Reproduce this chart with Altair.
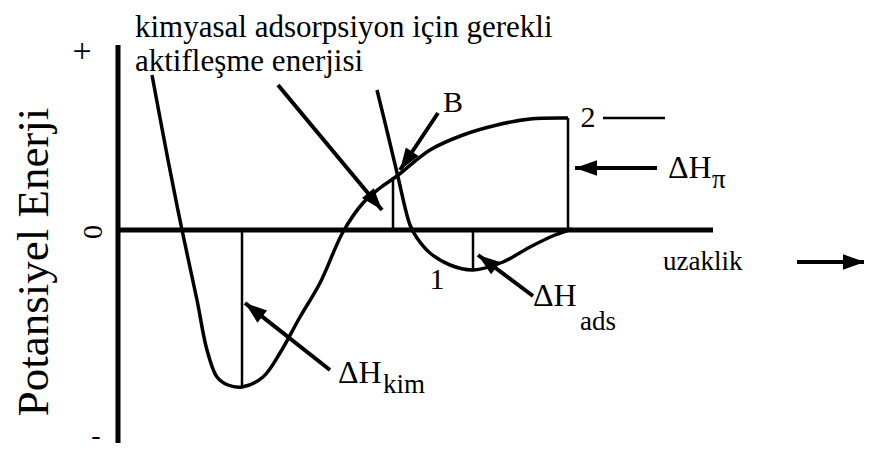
import altair as alt
import pandas as pd
import numpy as np

# Coordinates: d = distance (uzaklik), e = potential energy; origin where the axes cross
# chemisorption curve (kimyasal)
chem_d = [34, 50, 64, 79, 89, 99, 110, 124, 145, 162, 182, 202, 225, 245, 262, 279, 312, 345, 379, 412, 450]
chem_e = [155, 70, 0, -70, -120, -147, -155, -157, -147, -123, -87, -53, -2, 27, 42, 54, 80, 95, 105, 111, 112]
# physisorption curve (fiziksel)
phys_d = [259, 270, 280, 292, 299, 312, 332, 355, 385, 412, 437, 454]
phys_e = [140, 95, 53, 5, -8, -23, -35, -40, -32, -17, -5, 1]

# axes: d1, e1, d2, e2
axis_d1 = [0, 0]
axis_e1 = [185, 0]
axis_d2 = [0, 595]
axis_e2 = [-213, 0]

# thin guide lines (depths of minima, B drop, level 2)
guide_d1 = [124, 275, 355, 450, 485]
guide_e1 = [0, 53, 0, 112, 112]
guide_d2 = [124, 275, 355, 450, 547]
guide_e2 = [-157, 0, -40, 0, 112]

# arrows: tail -> tip
arrow_d1 = [160, 320, 539, 415, 212, 679]
arrow_e1 = [145, 117, 62, -66, -140, -32]
arrow_d2 = [264, 282, 457, 360, 127, 747]
arrow_e2 = [20, 60, 62, -25, -73, -32]

# labels (left aligned, middle baseline)
lab_text = ["ΔH", "π", "ΔH", "ads", "ΔH", "kim", "uzaklik"]
lab_d = [550, 594, 415, 462, 220, 265, 545]
lab_e = [62, 50, -66, -92, -143, -155, -32]
lab_size = [32, 27, 32, 27, 32, 27, 27]

# top caption (left aligned, alphabetic baseline)
cap_text = ["kimyasal adsorpsiyon için gerekli", "aktifleşme enerjisi"]
cap_d = [17, 17]
cap_e = [193, 159]

# centred marks
mark_text = ["+", "-", "B", "2", "1"]
mark_d = [-36, -22, 335, 470, 319]
mark_e = [178, -206, 127, 112, -50]
mark_size = [34, 28, 30, 30, 30]

# rotated texts
rot_text = ["Potansiyel Enerji", "0"]
rot_d = [-84, -24]
rot_e = [-32, -2]
rot_size = [45, 28]

FONT = "Liberation Serif"

xs = alt.Scale(domain=[-110, 746], nice=False, zero=False)
ys = alt.Scale(domain=[-219, 222], nice=False, zero=False)

curves = pd.DataFrame({
    "d": chem_d + phys_d,
    "e": chem_e + phys_e,
    "curve": ["kim"] * len(chem_d) + ["fiz"] * len(phys_d),
    "i": list(range(len(chem_d))) + list(range(len(phys_d))),
})

def segs(d1, e1, d2, e2):
    return pd.DataFrame({"d": d1, "e": e1, "d2": d2, "e2": e2})

axes_df = segs(axis_d1, axis_e1, axis_d2, axis_e2)
guide_df = segs(guide_d1, guide_e1, guide_d2, guide_e2)
arrow_df = segs(arrow_d1, arrow_e1, arrow_d2, arrow_e2)

heads = pd.DataFrame({
    "d": arrow_d2,
    "e": arrow_e2,
    "ang": [float(np.degrees(np.arctan2(b - a, f - c)) % 360)
            for a, b, c, f in zip(arrow_d1, arrow_d2, arrow_e1, arrow_e2)],
})

X = alt.X("d:Q", scale=xs, axis=None)
Y = alt.Y("e:Q", scale=ys, axis=None)

curve_layer = alt.Chart(curves).mark_line(
    interpolate="catmull-rom", color="black", strokeWidth=3.5
).encode(x=X, y=Y, detail="curve:N", order="i:Q")

axes_layer = alt.Chart(axes_df).mark_rule(color="black", strokeWidth=5).encode(
    x=X, y=Y, x2="d2:Q", y2="e2:Q")

guide_layer = alt.Chart(guide_df).mark_rule(color="black", strokeWidth=2.5).encode(
    x=X, y=Y, x2="d2:Q", y2="e2:Q")

arrow_layer = alt.Chart(arrow_df).mark_rule(color="black", strokeWidth=4).encode(
    x=X, y=Y, x2="d2:Q", y2="e2:Q")

head_layer = alt.Chart(heads).mark_point(
    shape="M0,0L0.7,2L-0.7,2Z", filled=True, size=484, color="black", opacity=1
).encode(x=X, y=Y, angle=alt.Angle("ang:Q", scale=None))

lab_df = pd.DataFrame({"d": lab_d, "e": lab_e, "t": lab_text, "s": lab_size})
lab_layer = alt.Chart(lab_df).mark_text(
    font=FONT, align="left", baseline="middle", color="black"
).encode(x=X, y=Y, text="t:N", size=alt.Size("s:Q", scale=None))

cap_df = pd.DataFrame({"d": cap_d, "e": cap_e, "t": cap_text})
cap_layer = alt.Chart(cap_df).mark_text(
    font=FONT, align="left", baseline="alphabetic", fontSize=31, color="black"
).encode(x=X, y=Y, text="t:N")

mark_df = pd.DataFrame({"d": mark_d, "e": mark_e, "t": mark_text, "s": mark_size})
mark_layer = alt.Chart(mark_df).mark_text(
    font=FONT, align="center", baseline="middle", color="black"
).encode(x=X, y=Y, text="t:N", size=alt.Size("s:Q", scale=None))

rot_df = pd.DataFrame({"d": rot_d, "e": rot_e, "t": rot_text, "s": rot_size})
rot_layer = alt.Chart(rot_df).mark_text(
    font=FONT, align="center", baseline="middle", angle=270, color="black"
).encode(x=X, y=Y, text="t:N", size=alt.Size("s:Q", scale=None))

chart = alt.layer(
    axes_layer, guide_layer, curve_layer, arrow_layer, head_layer,
    lab_layer, cap_layer, mark_layer, rot_layer
).properties(
    width=856, height=441, padding=0, autosize="none", background="white"
).configure_view(strokeWidth=0)

chart.save("out.html", embed_options={"renderer": "svg", "actions": False})
